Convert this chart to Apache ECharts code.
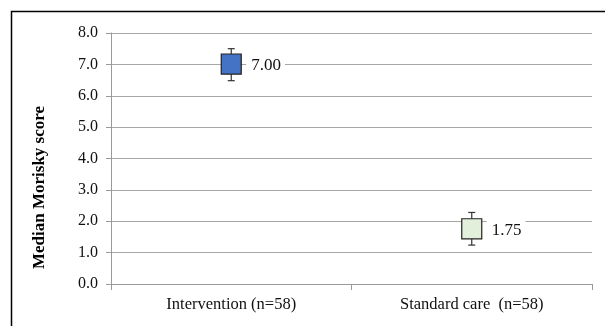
<!DOCTYPE html>
<html>
<head>
<meta charset="utf-8">
<script src="https://cdn.jsdelivr.net/npm/echarts@6/dist/echarts.min.js"></script>
<style>html,body{margin:0;padding:0;background:#fff}#c{width:605px;height:326px}</style>
</head>
<body>
<div id="c"></div>
<script>
var categories = ['Intervention (n=58)', 'Standard care  (n=58)'];
var whiskerLow = [6.48, 1.24];
var q1 = [6.69, 1.44];
var median = [7.00, 1.75];
var q3 = [7.33, 2.08];
var whiskerHigh = [7.50, 2.28];
var medianLabels = ['7.00', '1.75'];
var fills = ['#4472C4', '#E2EFDA'];
var yTicks = [0, 1, 2, 3, 4, 5, 6, 7, 8];

var chart = echarts.init(document.getElementById('c'), null, {renderer: 'canvas'});
var data = categories.map(function (c, i) {
  return [i, whiskerLow[i], q1[i], median[i], q3[i], whiskerHigh[i]];
});
var font = '"Liberation Serif", "Times New Roman", serif';
chart.setOption({
  animation: false,
  grid: {left: 111, right: 13, top: 33, bottom: 42},
  graphic: [{
    type: 'rect', z: 100,
    shape: {x: 11.5, y: 11.5, width: 800, height: 500},
    style: {fill: 'none', stroke: '#000', lineWidth: 1.5}
  }],
  xAxis: {
    type: 'category', data: categories, boundaryGap: true,
    axisLine: {lineStyle: {color: '#9a9a9a'}},
    axisTick: {show: true, alignWithLabel: false, length: 6, lineStyle: {color: '#9a9a9a'}},
    axisLabel: {fontFamily: font, fontSize: 16.5, color: '#111', margin: 12}
  },
  yAxis: {
    type: 'value', min: 0, max: 8, interval: 1,
    name: 'Median Morisky score', nameLocation: 'middle', nameGap: 63,
    nameTextStyle: {fontFamily: font, fontSize: 17, fontWeight: 'bold', color: '#000',
      padding: [0, 58, 0, 0]},
    axisLine: {show: true, lineStyle: {color: '#9a9a9a'}},
    axisTick: {show: true, length: 5, lineStyle: {color: '#9a9a9a'}},
    splitLine: {lineStyle: {color: '#a6a6a6'}},
    axisLabel: {fontFamily: font, fontSize: 16, color: '#111', margin: 13,
      formatter: function (v) { return yTicks.indexOf(v) >= 0 ? v.toFixed(1) : ''; }}
  },
  series: [{
    type: 'custom',
    data: data,
    encode: {x: 0, y: [1, 2, 3, 4, 5]},
    renderItem: function (params, api) {
      var i = api.value(0);
      var pLow = api.coord([i, api.value(1)]);
      var pQ1 = api.coord([i, api.value(2)]);
      var pMed = api.coord([i, api.value(3)]);
      var pQ3 = api.coord([i, api.value(4)]);
      var pHigh = api.coord([i, api.value(5)]);
      var x = pMed[0];
      var bw = 20, cw = 7;
      var ls = {stroke: '#333', lineWidth: 1.2};
      return {
        type: 'group',
        children: [
          {type: 'line', shape: {x1: x, y1: pHigh[1], x2: x, y2: pQ3[1]}, style: ls},
          {type: 'line', shape: {x1: x, y1: pLow[1], x2: x, y2: pQ1[1]}, style: ls},
          {type: 'line', shape: {x1: x - cw / 2, y1: pHigh[1], x2: x + cw / 2, y2: pHigh[1]}, style: ls},
          {type: 'line', shape: {x1: x - cw / 2, y1: pLow[1], x2: x + cw / 2, y2: pLow[1]}, style: ls},
          {type: 'rect', shape: {x: x - bw / 2, y: pQ3[1], width: bw, height: pQ1[1] - pQ3[1]},
            style: {fill: fills[i], stroke: '#222', lineWidth: 1.2}},
          {type: 'text', x: x + bw / 2 + 5, y: pMed[1] + 1,
            style: {text: medianLabels[i], fontFamily: font, fontSize: 17, fill: '#111',
              verticalAlign: 'middle', align: 'left',
              backgroundColor: '#fff', padding: [4, 4, 4, 5]}}
        ]
      };
    }
  }]
});
</script>
</body>
</html>
